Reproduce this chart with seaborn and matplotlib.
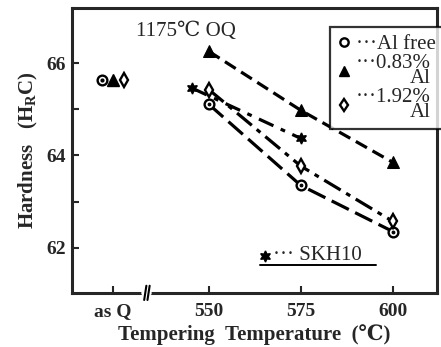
import numpy as np
import pandas as pd
import matplotlib
matplotlib.use("Agg")
import matplotlib.pyplot as plt
import seaborn as sns
from matplotlib.lines import Line2D

sns.set_style("ticks")
plt.rcParams['font.family'] = ['Liberation Serif', 'DejaVu Serif']
plt.rcParams['mathtext.fontset'] = 'custom'
plt.rcParams['mathtext.rm'] = 'Liberation Serif:bold'

# data
temps = [550, 575, 600]
al_free = [65.11, 63.35, 62.35]
al_083 = [66.26, 64.98, 63.85]
al_192 = [65.43, 63.77, 62.57]
skh10_temps = [545.5, 575]
skh10 = [65.46, 64.37]
asq_pos = [521, 524, 527]          # circle, triangle, diamond (as quenched)
asq_vals = [65.63, 65.63, 65.63]

xtick_pos = [524, 550, 575, 600]
xtick_labels = ["as Q", "550", "575", "600"]
ytick_major = [62, 64, 66]
ytick_minor = [63, 65]

fig = plt.figure(figsize=(4.41, 3.47), dpi=100)
ax = fig.add_axes([0.163, 0.156, 0.828, 0.821])

lw = 2.3
star = (6, 1, 0)
sns.lineplot(x=temps, y=al_083, ax=ax, color='black', lw=lw, linestyle=(0, (4, 2)),
             marker='^', markersize=8, mfc='black', mec='black')
sns.lineplot(x=temps, y=al_free, ax=ax, color='black', lw=lw, linestyle=(0, (6, 2.2)),
             marker='o', markersize=7, mfc='white', mec='black', mew=1.7)
sns.lineplot(x=temps, y=al_free, ax=ax, color='black', lw=0,
             marker='o', markersize=2, mfc='black', mec='black')
sns.lineplot(x=temps, y=al_192, ax=ax, color='black', lw=lw, linestyle=(0, (6, 2, 1.5, 2)),
             marker='d', markersize=7, mfc='white', mec='black', mew=1.7)
sns.lineplot(x=skh10_temps, y=skh10, ax=ax, color='black', lw=lw, linestyle=(0, (5, 2.5, 1.5, 2.5)),
             marker=star, markersize=8, mfc='black', mec='black', mew=1)

# as quenched points
ax.plot(asq_pos[0], asq_vals[0], 'o', ms=7, mfc='white', mec='black', mew=1.7)
ax.plot(asq_pos[0], asq_vals[0], 'o', ms=2, color='black')
ax.plot(asq_pos[1], asq_vals[1], '^', ms=8, color='black')
ax.plot(asq_pos[2], asq_vals[2], 'd', ms=7, mfc='white', mec='black', mew=1.7)

ax.set_xlim(512.8, 612)
ax.set_ylim(61.02, 67.2)
ax.set_xticks(xtick_pos)
ax.set_xticklabels(xtick_labels)
ax.set_yticks(ytick_major)
ax.set_yticks(ytick_minor, minor=True)
ax.tick_params(axis='both', which='both', direction='in', width=1.5, length=5)
ax.tick_params(axis='x', labelsize=14, pad=7)
ax.tick_params(axis='y', labelsize=14, pad=4)
for lab in ax.get_xticklabels() + ax.get_yticklabels():
    lab.set_fontweight('bold')
for s in ax.spines.values():
    s.set_linewidth(2.2)
    s.set_visible(True)

# axis break mark
ax.plot([0.198, 0.212], [0, 0], transform=ax.transAxes, color='white', lw=4, clip_on=False, zorder=3)
for dx in (0.0, 0.009):
    ax.plot([0.198 + dx, 0.204 + dx], [-0.025, 0.025], transform=ax.transAxes,
            color='black', lw=1.5, clip_on=False, zorder=4)

ax.set_xlabel("Tempering  Temperature  (℃)", fontsize=15, fontweight='bold', labelpad=3)
ax.set_ylabel("Hardness   (H$_\\mathregular{R}$C)", fontsize=15, fontweight='bold', labelpad=5)

ax.text(0.312, 0.916, "1175℃ OQ", transform=ax.transAxes, fontsize=15, ha='center', va='center')

handles = [
    Line2D([], [], ls='none', marker='o', ms=6, mfc='white', mec='black', mew=1.7),
    Line2D([], [], ls='none', marker='^', ms=7, color='black'),
    Line2D([], [], ls='none', marker='d', ms=6, mfc='white', mec='black', mew=1.7),
]
labels = ["···Al free", "···0.83%\nAl", "···1.92%\nAl"]
leg = ax.legend(handles, labels, loc='upper left', bbox_to_anchor=(0.707, 0.933),
                frameon=True, fancybox=False, edgecolor='black', fontsize=15,
                handlelength=0.6, handletextpad=0.3, labelspacing=0.0, borderpad=0.35,
                borderaxespad=0)
leg.get_frame().set_linewidth(1.6)
for t in leg.get_texts():
    t.set_multialignment('right')
    t.set_linespacing(0.72)

ax.plot([0.529], [0.130], transform=ax.transAxes, marker=star, ms=8, color='black', mew=1, clip_on=False)
ax.text(0.55, 0.130, "··· SKH10", transform=ax.transAxes, fontsize=15, ha='left', va='center')
ax.plot([0.515, 0.833], [0.098, 0.098], transform=ax.transAxes, color='black', lw=1.4)

fig.savefig("out.png", dpi=100)
